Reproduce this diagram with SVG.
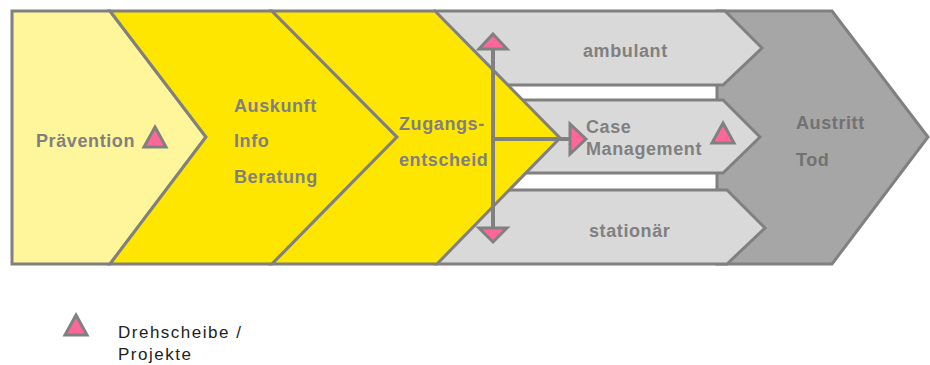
<svg xmlns="http://www.w3.org/2000/svg" width="930" height="365" viewBox="0 0 930 365">
<style>
.s{stroke:#808080;stroke-width:3;stroke-linejoin:miter}
.lbl{font-family:"Liberation Sans",Arial,sans-serif;font-weight:bold;font-size:18px;fill:#808080;letter-spacing:0.6px}
.dk{fill:#727272}
.leg{font-family:"Liberation Sans",Arial,sans-serif;font-size:17px;fill:#222;letter-spacing:1.5px}
.tri{fill:#FF6699;stroke:#808080;stroke-width:3;stroke-linejoin:miter}
.ln{stroke:#808080;stroke-width:4;fill:none}
</style>
<rect width="930" height="365" fill="#ffffff"/>
<g id="austritt">
<polygon class="s" fill="#A6A6A6" points="717,11 832,11 928,137 832,264 717,264"/>
<text class="lbl dk" x="796" y="129">Austritt</text>
<text class="lbl dk" x="796" y="166">Tod</text>
</g>
<g id="ambulant">
<polygon class="s" fill="#D9D9D9" points="435,11 725,11 762,48 723,85 435,85"/>
<text class="lbl" x="583" y="57">ambulant</text>
</g>
<g id="case-management">
<polygon class="s" fill="#D9D9D9" points="480,100 723,100 760,137 723,173 480,173"/>
<text class="lbl" x="586" y="133">Case</text>
<text class="lbl" x="586" y="155">Management</text>
<polygon class="tri" points="723,123 734,143 712,143"/>
</g>
<g id="stationaer">
<polygon class="s" fill="#D9D9D9" points="435,190 727,190 765,228 727,264 435,264"/>
<text class="lbl" x="589" y="237">stationär</text>
</g>
<g id="praevention">
<polygon class="s" fill="#FFF59A" points="12,11 110,11 206,137 110,264 12,264"/>
<text class="lbl" x="36" y="147">Prävention</text>
<polygon class="tri" points="155,127 166,147 144,147"/>
</g>
<g id="auskunft">
<polygon class="s" fill="#FFE600" points="110,11 272,11 397,137 272,264 110,264 206,137"/>
<text class="lbl" x="234" y="112">Auskunft</text>
<text class="lbl" x="234" y="147">Info</text>
<text class="lbl" x="234" y="183">Beratung</text>
</g>
<g id="zugangsentscheid">
<polygon class="s" fill="#FFE600" points="272,11 435,11 560,138 437,264 272,264 397,137"/>
<text class="lbl" x="399" y="130">Zugangs-</text>
<text class="lbl" x="399" y="166">entscheid</text>
</g>
<g id="connectors">
<line class="ln" x1="493" y1="48" x2="493" y2="229"/>
<line class="ln" x1="493" y1="139" x2="572" y2="139"/>
<polygon class="tri" points="493,34 507,49 479,49"/>
<polygon class="tri" points="493,242 507,228 479,228"/>
<polygon class="tri" points="586,139 570,124 570,154"/>
</g>
<g id="legend">
<polygon class="tri" points="76,315 87,335 65,335"/>
<text class="leg" x="118" y="338">Drehscheibe /</text>
<text class="leg" x="118" y="360">Projekte</text>
</g>
</svg>
